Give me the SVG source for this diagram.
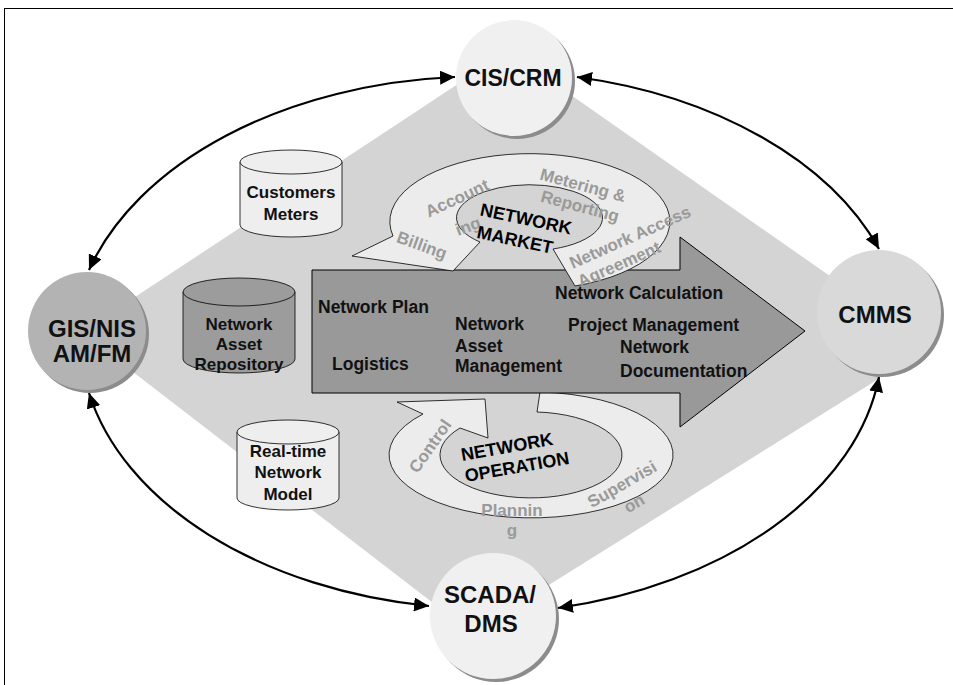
<svg xmlns="http://www.w3.org/2000/svg" width="953" height="685" viewBox="0 0 953 685">
<style>
 text{font-family:"Liberation Sans",Arial,sans-serif;font-weight:bold}
 .lbl{font-size:24px;fill:#111;text-anchor:middle}
 .cyt{font-size:17px;fill:#111;text-anchor:middle}
 .arr{font-size:17.5px;fill:#111}
 .sw{font-size:17px;fill:#9a9a9a;text-anchor:middle}
 .swb{font-size:18px;fill:#000;text-anchor:middle}
 .ring{fill:#ececec;stroke:#000;stroke-width:0.8}
 .conn{fill:none;stroke:#000;stroke-width:2.2;marker-start:url(#ah);marker-end:url(#ah)}
 .sh{fill:#8c8c8c}
 .cl{fill:#eeeeee;stroke:#000;stroke-width:0.8}
 .cd{fill:#9c9c9c;stroke:#000;stroke-width:0.8}
</style>
<defs>
 <marker id="ah" markerUnits="userSpaceOnUse" markerWidth="16" markerHeight="14" refX="15" refY="7" orient="auto-start-reverse"><path d="M0,0 L15,7 L0,14 z" fill="#000"/></marker>
</defs>
<rect x="4.5" y="8.5" width="960" height="700" fill="#fff" stroke="#000"/>
<polygon id="diamond" points="508,51 880,311 880,378 472,633 85,335 85,330" fill="#d4d4d4"/>

<g id="cyl-customers">
 <path class="cl" d="M240,162 V225 A51,12 0 0 0 342,225 V162 Z"/>
 <ellipse class="cl" cx="291" cy="162" rx="51" ry="12"/>
 <text class="cyt" x="291" y="198">Customers</text>
 <text class="cyt" x="291" y="220">Meters</text>
</g>
<g id="cyl-repository">
 <path class="cd" d="M183,292 V359 A56,14 0 0 0 295,359 V292 Z"/>
 <ellipse class="cd" cx="239" cy="292" rx="56" ry="14"/>
 <text class="cyt" x="239" y="330">Network</text>
 <text class="cyt" x="239" y="350">Asset</text>
 <text class="cyt" x="239" y="370">Repository</text>
</g>
<g id="cyl-realtime">
 <path class="cl" d="M237,432 V498 A51,12 0 0 0 339,498 V432 Z"/>
 <ellipse class="cl" cx="288" cy="432" rx="51" ry="12"/>
 <text class="cyt" x="288" y="457">Real-time</text>
 <text class="cyt" x="288" y="478">Network</text>
 <text class="cyt" x="288" y="500">Model</text>
</g>

<g id="swirl-operation-shape">
 <path class="ring" d="M540,392 A142,63 0 1 1 423,414 L397,402 L485,399 L488,438 L460,428 A91,43 0 1 0 537,412 Z"/>
</g>

<g id="big-arrow">
 <path d="M312,270 L680,270 L680,237 L805,331 L680,427 L680,393 L312,393 Z" fill="#999" stroke="#000" stroke-width="1"/>
 <text class="arr" x="318" y="313">Network Plan</text>
 <text class="arr" x="332" y="370">Logistics</text>
 <text class="arr" x="455" y="330">Network</text>
 <text class="arr" x="455" y="351.5">Asset</text>
 <text class="arr" x="455" y="372">Management</text>
 <text class="arr" x="555" y="299">Network Calculation</text>
 <text class="arr" x="568" y="330.5">Project Management</text>
 <text class="arr" x="620" y="353">Network</text>
 <text class="arr" x="620" y="376.5">Documentation</text>
</g>

<g id="swirl-market-shape">
 <path class="ring" d="M575,286 A140,68 0 1 0 393,236 L352,256 L453,271 L480,242 A73,33 0 1 1 553,249 Z"/>
</g>

<g id="swirl-market-text">
 <text class="sw" transform="translate(457,198) rotate(-25)" y="6">Account</text>
 <text class="sw" transform="translate(468,226) rotate(-20)" y="6">ing</text>
 <text class="sw" transform="translate(583,185) rotate(15)" y="6">Metering &amp;</text>
 <text class="sw" transform="translate(580,206) rotate(15)" y="6">Reporting</text>
 <text class="sw" transform="translate(422,245) rotate(20)" y="6">Billing</text>
 <text class="sw" transform="translate(630,237) rotate(-24)" y="6">Network Access</text>
 <text class="sw" transform="translate(619,264) rotate(-24)" y="6">Agreement</text>
 <text class="swb" transform="translate(526,219) rotate(12)" y="6">NETWORK</text>
 <text class="swb" transform="translate(515,240) rotate(12)" y="6">MARKET</text>
</g>
<g id="swirl-operation-text">
 <text class="sw" transform="translate(430,446) rotate(-55)" y="6">Control</text>
 <text class="swb" transform="translate(507,447) rotate(-10)" y="6">NETWORK</text>
 <text class="swb" transform="translate(517,467) rotate(-10)" y="6">OPERATION</text>
 <text class="sw" x="512" y="516">Plannin</text>
 <text class="sw" x="512" y="536">g</text>
 <text class="sw" transform="translate(622,484) rotate(-30)" y="6">Supervisi</text>
 <text class="sw" transform="translate(634,503) rotate(-30)" y="6">on</text>
</g>

<g id="connectors">
 <path class="conn" d="M89,270 A410,272 0 0 1 455,77"/>
 <path class="conn" d="M577,77 A410,272 0 0 1 879,249"/>
 <path class="conn" d="M879,377 A410,272 0 0 1 558,608"/>
 <path class="conn" d="M429,606 A410,272 0 0 1 89,393"/>
</g>

<g id="node-cis">
 <circle class="sh" cx="517" cy="81" r="58"/>
 <circle cx="514" cy="78" r="58" fill="#f0f0f0"/>
 <text class="lbl" style="font-size:23px" x="513" y="86">CIS/CRM</text>
</g>
<g id="node-gis">
 <circle class="sh" cx="90" cy="334" r="59"/>
 <circle cx="87" cy="331" r="59" fill="#b3b3b3"/>
 <text class="lbl" x="92" y="337">GIS/NIS</text>
 <text class="lbl" x="92" y="362">AM/FM</text>
</g>
<g id="node-cmms">
 <circle class="sh" cx="882" cy="315" r="62"/>
 <circle cx="879" cy="312" r="62" fill="#d9d9d9"/>
 <text class="lbl" x="875" y="323">CMMS</text>
</g>
<g id="node-scada">
 <circle class="sh" cx="496" cy="619" r="63"/>
 <circle cx="493" cy="616" r="63" fill="#f0f0f0"/>
 <text class="lbl" x="490" y="603">SCADA/</text>
 <text class="lbl" x="491" y="632">DMS</text>
</g>
</svg>
